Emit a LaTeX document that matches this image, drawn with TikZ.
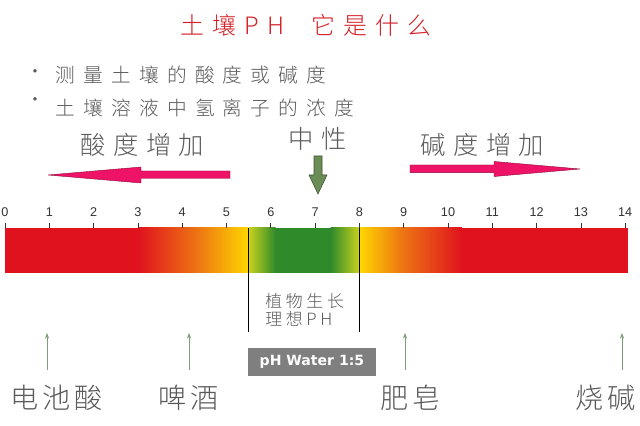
\documentclass[tikz,border=0pt]{standalone}
\usepackage{fontspec}
\setmainfont{Liberation Sans}
\IfFontExistsTF{Noto Sans CJK SC Light}
  {\newfontfamily\cjk{Noto Sans CJK SC Light}}
  {\newfontfamily\cjk{Noto Sans CJK SC}}
\newfontfamily\waterfont{DejaVu Sans}
\definecolor{txtgray}{HTML}{5A5A5A}
\definecolor{titlered}{HTML}{D42027}
\definecolor{acidred}{HTML}{E0121E}
\definecolor{phorange}{HTML}{EE7A12}
\definecolor{phyellow}{HTML}{FFD700}
\definecolor{phlime}{HTML}{C9D21E}
\definecolor{phgreen}{HTML}{2F8A2A}
\definecolor{arrowpink}{HTML}{EE1366}
\definecolor{arrowgreen}{HTML}{6A8C55}
\definecolor{thingreen}{HTML}{7E9E78}
\definecolor{boxgray}{HTML}{7F7F7F}
\usetikzlibrary{arrows.meta}
\tikzset{
  cjktext/.style={inner sep=0pt, anchor=west, text=txtgray},
  titletext/.style={cjktext, text=titlered,
    font={\cjk\fontsize{17}{20}\selectfont\addfontfeatures{LetterSpace=35}}},
  bullettext/.style={cjktext,
    font={\cjk\fontsize{14}{17}\selectfont\addfontfeatures{LetterSpace=42}}},
  headtext/.style={cjktext,
    font={\cjk\fontsize{18}{21}\selectfont\addfontfeatures{LetterSpace=30}}},
  smalltext/.style={cjktext,
    font={\cjk\fontsize{12}{14}\selectfont\addfontfeatures{LetterSpace=22}}},
  bottomtext/.style={cjktext,
    font={\cjk\fontsize{20}{23}\selectfont\addfontfeatures{LetterSpace=14}}},
  ticknum/.style={inner sep=0pt, text=black!80, font=\fontsize{9}{10}\selectfont},
  waterbox/.style={fill=boxgray, text=white, minimum width=128*0.025cm,
    minimum height=28*0.025cm, inner sep=0pt,
    font={\waterfont\bfseries\fontsize{10}{12}\selectfont}},
  pinkarrow/.style={fill=arrowpink, draw=arrowpink!60!black, line width=0.3pt},
  sample/.style={thingreen, line width=0.6pt, -{Stealth[length=4pt,width=3pt]}}
}
\begin{document}
\begin{tikzpicture}[x=0.025cm,y=-0.025cm]
  \useasboundingbox[fill=white] (0,0) rectangle (640,426);
  % title and bullets
  \node[titletext] (title) at (180,25) {土壤PH\hspace*{1.1em}它是什么};
  \node[inner sep=0pt, text=txtgray, font=\small] (dot1) at (35,73) {\textbullet};
  \node[inner sep=0pt, text=txtgray, font=\small] (dot2) at (35,101) {\textbullet};
  \node[bullettext] (line1) at (55,75) {测量土壤的酸度或碱度};
  \node[bullettext] (line2) at (55,108) {土壤溶液中氢离子的浓度};
  % headings
  \node[headtext] (acid) at (80,145) {酸度增加};
  \node[headtext] (neutral) at (288,139) {中性};
  \node[headtext] (base) at (420,145) {碱度增加};
  % big arrows
  \filldraw[pinkarrow] (230,171) -- (141,171) -- (141,167) -- (48,175)
    -- (141,183) -- (141,178.5) -- (230,178.5) -- cycle;
  \filldraw[pinkarrow] (410,165) -- (494,165) -- (494,161.5) -- (580,169)
    -- (494,176.5) -- (494,172.7) -- (410,172.7) -- cycle;
  \filldraw[fill=arrowgreen, draw=arrowgreen!60!black, line width=0.4pt]
    (314,156) -- (322,156) -- (322,175) -- (327,175) -- (318,194)
    -- (309,175) -- (314,175) -- cycle;
  % colour bar
  \fill[acidred] (5,228) rectangle ({5+44.3*3+0.5},273);
  \shade[left color=acidred, right color=phorange]
    ({5+44.3*3},228) rectangle ({5+44.3*4.4+0.5},273);
  \shade[left color=phorange, right color=phyellow]
    ({5+44.3*4.4},228) rectangle ({5+44.3*5.5},273);
  \shade[left color=phlime, right color=phgreen]
    ({5+44.3*5.5},228) rectangle ({5+44.3*6.1+0.5},273);
  \fill[phgreen] ({5+44.3*6.1},228) rectangle ({5+44.3*7.35+0.5},273);
  \shade[left color=phgreen, right color=phlime]
    ({5+44.3*7.35},228) rectangle ({5+44.3*8},273);
  \shade[left color=phyellow, right color=phorange]
    ({5+44.3*8},228) rectangle ({5+44.3*8.9+0.5},273);
  \shade[left color=phorange, right color=acidred]
    ({5+44.3*8.9},228) rectangle ({5+44.3*10.3+0.5},273);
  \fill[acidred] ({5+44.3*10.3},228) rectangle (628,273);
  % scale
  \foreach \p in {0,...,14} {
    \draw[black!80, line width=0.5pt] ({5+44.3*\p},223) -- ({5+44.3*\p},228);
    \node[ticknum] (t\p) at ({5+44.3*\p},212) {\p};
  }
  % ideal range
  \draw[line width=0.8pt] ({5+44.3*5.5},228) -- ({5+44.3*5.5},332);
  \draw[line width=0.8pt] ({5+44.3*8},228) -- ({5+44.3*8},332);
  \node[smalltext] (plant) at (265,301) {植物生长};
  \node[smalltext] (ideal) at (265,319) {理想PH};
  \node[waterbox] (water) at (312,362) {pH Water 1:5};
  % examples
  \node[bottomtext] (battery) at (10,398) {电池酸};
  \node[bottomtext] (beer) at (158,398) {啤酒};
  \node[bottomtext] (soap) at (380,398) {肥皂};
  \node[bottomtext] (lye) at (575,398) {烧碱};
  \coordinate (batteryup) at (47,333);
  \coordinate (beerup) at (189,333);
  \coordinate (soapup) at (405,333);
  \coordinate (lyeup) at (622,333);
  \draw[sample] (47,370) -- (batteryup);
  \draw[sample] (189,370) -- (beerup);
  \draw[sample] (405,370) -- (soapup);
  \draw[sample] (622,370) -- (lyeup);
\end{tikzpicture}
\end{document}
